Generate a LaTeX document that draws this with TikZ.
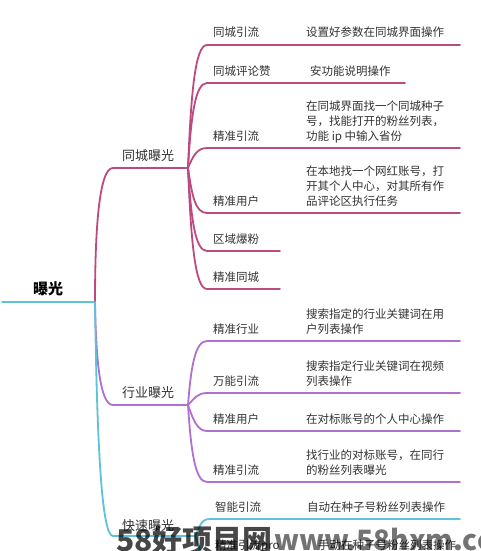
\documentclass[tikz,border=0pt]{standalone}
\usepackage{fontspec}
\setmainfont{Noto Sans CJK SC}
\usetikzlibrary{calc}
\definecolor{mag}{HTML}{BC4A7E}
\definecolor{pur}{HTML}{B070D0}
\definecolor{cya}{HTML}{5EC3DA}
\definecolor{txt}{HTML}{333333}
\begin{document}
\begin{tikzpicture}[x=1pt,y=1pt,line cap=round,
  wire/.style={line width=1.8pt},
  leaf/.style={anchor=base west,inner sep=0pt,font=\fontsize{11.5}{15}\selectfont,text=txt,align=left},
  branchtext/.style={anchor=base west,inner sep=0pt,font=\fontsize{13}{15}\selectfont,text=txt},
  roottext/.style={anchor=base west,inner sep=0pt,font=\bfseries\fontsize{15}{17}\selectfont,text=black},
  wmark/.style={anchor=base west,inner sep=0pt,font=\bfseries\fontsize{30}{31}\selectfont}]
\clip (0,0) rectangle (480,-551);
\fill[white] (0,0) rectangle (480,-551);
% root
\coordinate (r0) at (2,-302);
\coordinate (R) at (95,-302);
\node[roottext] (root) at (33,-294) {曝光};
\draw[wire,cya] (r0) -- (R);
% branch 1
\coordinate (b1s) at (113,-168);
\coordinate (J1) at (188,-168);
\node[branchtext] (b1) at (122,-160) {同城曝光};
\draw[wire,mag] (R) .. controls (95,-230) and (99,-168) .. (b1s) -- (J1);
% branch 2
\coordinate (b2s) at (113,-405);
\coordinate (J2) at (188,-405);
\node[branchtext] (b2) at (122,-397) {行业曝光};
\draw[wire,pur] (R) .. controls (96,-360) and (100,-405) .. (b2s) -- (J2);
% branch 3
\coordinate (b3s) at (113,-536);
\coordinate (J3) at (195,-536);
\node[branchtext] (b3) at (122,-530) {快速曝光};
\draw[wire,cya] (R) .. controls (97,-450) and (102,-536) .. (b3s) -- (J3);

% children of branch 1
\coordinate (a1s) at (207,-45);  \coordinate (a1e) at (460,-45);
\coordinate (a2s) at (207,-83);  \coordinate (a2e) at (405,-83);
\coordinate (a3s) at (207,-148); \coordinate (a3e) at (460,-148);
\coordinate (a4s) at (207,-213); \coordinate (a4e) at (460,-213);
\coordinate (a5s) at (207,-251); \coordinate (a5e) at (280,-251);
\coordinate (a6s) at (207,-289); \coordinate (a6e) at (280,-289);
\draw[wire,mag] (J1) .. controls +(3,74) and +(-12,0) .. (a1s) -- (a1e);
\draw[wire,mag] (J1) .. controls +(3,51) and +(-12,0) .. (a2s) -- (a2e);
\draw[wire,mag] (J1) .. controls +(5,12) and +(-10,0) .. (a3s) -- (a3e);
\draw[wire,mag] (J1) .. controls +(4,-27) and +(-12,0) .. (a4s) -- (a4e);
\draw[wire,mag] (J1) .. controls +(3,-50) and +(-12,0) .. (a5s) -- (a5e);
\draw[wire,mag] (J1) .. controls +(3,-73) and +(-12,0) .. (a6s) -- (a6e);
\node[leaf] (l1) at (213,-37) {同城引流};
\node[leaf] (d1) at (306,-37) {设置好参数在同城界面操作};
\node[leaf] (l2) at (213,-75) {同城评论赞};
\node[leaf] (d2) at (310,-75) {安功能说明操作};
\node[leaf] (l3) at (213,-140) {精准引流};
\node[leaf] (d3) at (306,-140) {在同城界面找一个同城种子\\号，找能打开的粉丝列表，\\功能 ip 中输入省份};
\node[leaf] (l4) at (213,-205) {精准用户};
\node[leaf] (d4) at (306,-205) {在本地找一个网红账号，打\\开其个人中心，对其所有作\\品评论区执行任务};
\node[leaf] (l5) at (213,-243) {区域爆粉};
\node[leaf] (l6) at (213,-281) {精准同城};

% children of branch 2
\coordinate (c1s) at (207,-341); \coordinate (c1e) at (460,-341);
\coordinate (c2s) at (207,-393); \coordinate (c2e) at (460,-393);
\coordinate (c3s) at (207,-431); \coordinate (c3e) at (460,-431);
\coordinate (c4s) at (207,-482); \coordinate (c4e) at (460,-482);
\draw[wire,pur] (J2) .. controls +(3,38) and +(-12,0) .. (c1s) -- (c1e);
\draw[wire,pur] (J2) .. controls +(6,6) and +(-10,0) .. (c2s) -- (c2e);
\draw[wire,pur] (J2) .. controls +(5,-14) and +(-10,0) .. (c3s) -- (c3e);
\draw[wire,pur] (J2) .. controls +(3,-46) and +(-12,0) .. (c4s) -- (c4e);
\node[leaf] (m1) at (213,-333) {精准行业};
\node[leaf] (e1) at (306,-333) {搜索指定的行业关键词在用\\户列表操作};
\node[leaf] (m2) at (213,-385) {万能引流};
\node[leaf] (e2) at (306,-385) {搜索指定行业关键词在视频\\列表操作};
\node[leaf] (m3) at (213,-423) {精准用户};
\node[leaf] (e3) at (306,-423) {在对标账号的个人中心操作};
\node[leaf] (m4) at (213,-474) {精准引流};
\node[leaf] (e4) at (306,-474) {找行业的对标账号，在同行\\的粉丝列表曝光};

% children of branch 3
\coordinate (f1s) at (210,-519); \coordinate (f1e) at (460,-519);
\coordinate (f2s) at (210,-557); \coordinate (f2e) at (460,-557);
\draw[wire,cya] (J3) .. controls +(5,8) and +(-10,0) .. (f1s) -- (f1e);
\draw[wire,cya] (J3) .. controls +(5,-12) and +(-10,0) .. (f2s) -- (f2e);
\node[leaf] (n1) at (215,-511) {智能引流};
\node[leaf] (g1) at (307,-511) {自动在种子号粉丝列表操作};
\node[leaf] (n2) at (215,-549) {精准引流pro};
\node[leaf] (g2) at (318,-549) {手动在种子号粉丝列表操作};

% watermark
\node[wmark,text=black,opacity=0.72] (w1) at (116,-551) {58好项目网};
\node[wmark,text=black,opacity=0.55,font=\bfseries\fontsize{28}{29}\selectfont] (w2) at (274,-550) {www.58hxm.com};
\end{tikzpicture}
\end{document}
